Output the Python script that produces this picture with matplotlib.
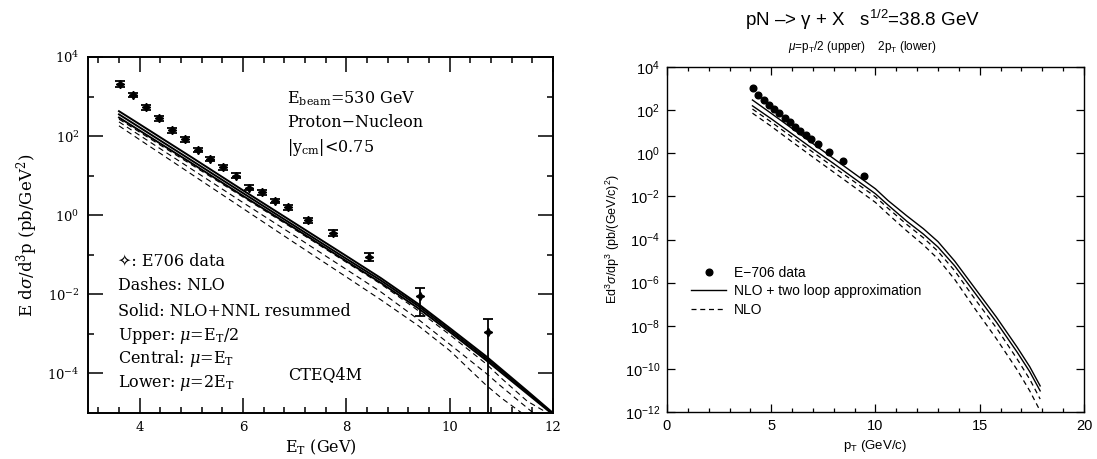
import matplotlib
matplotlib.use("Agg")
import matplotlib.pyplot as plt
import numpy as np
from matplotlib.ticker import MultipleLocator, FixedLocator, FixedFormatter

plt.rcParams['mathtext.fontset'] = 'custom'
plt.rcParams['mathtext.rm'] = 'Liberation Sans'
plt.rcParams['mathtext.it'] = 'Liberation Sans:italic'

# ---------------- left panel data (E706, 530 GeV) ----------------
e706_et = [3.62, 3.87, 4.12, 4.37, 4.62, 4.87, 5.12, 5.37, 5.62, 5.87,
           6.12, 6.37, 6.62, 6.87, 7.25, 7.75, 8.43, 9.43, 10.74]
e706_log = [3.32, 3.04, 2.73, 2.45, 2.15, 1.92, 1.65, 1.42, 1.21, 1.00,
            0.70, 0.58, 0.36, 0.20, -0.13, -0.45, -1.06, -2.05, -2.94]
e706_err_up = [0.07, 0.06, 0.06, 0.06, 0.06, 0.06, 0.06, 0.06, 0.06, 0.06,
               0.06, 0.06, 0.06, 0.06, 0.07, 0.08, 0.10, 0.20, 0.31]
e706_err_dn = [0.07, 0.06, 0.06, 0.06, 0.06, 0.06, 0.06, 0.06, 0.06, 0.06,
               0.06, 0.06, 0.06, 0.06, 0.07, 0.08, 0.10, 0.51, 2.50]

left_x = [3.6, 4.0, 5.0, 6.0, 7.0, 8.0, 8.67, 9.4, 10.0, 10.7, 11.0, 11.5, 12.0]
resum_upper = [2.63, 2.30, 1.47, 0.63, -0.20, -1.03, -1.59, -2.25, -2.85, -3.56, -3.89, -4.44, -5.00]
resum_central = [2.55, 2.22, 1.39, 0.56, -0.27, -1.10, -1.65, -2.30, -2.90, -3.61, -3.93, -4.47, -5.02]
resum_lower = [2.47, 2.14, 1.32, 0.49, -0.33, -1.16, -1.71, -2.36, -2.95, -3.66, -3.98, -4.51, -5.04]
nlo_upper = [2.43, 2.10, 1.28, 0.46, -0.36, -1.19, -1.74, -2.42, -3.02, -3.75, -4.12, -4.70, -5.08]
nlo_central = [2.36, 2.02, 1.17, 0.32, -0.52, -1.37, -1.94, -2.64, -3.26, -3.99, -4.33, -4.87, -5.42]
nlo_lower = [2.26, 1.91, 1.04, 0.17, -0.70, -1.56, -2.14, -2.80, -3.42, -4.29, -4.62, -5.10, -5.60]

# ---------------- right panel data (sqrt(s)=38.8 GeV) ----------------
r_data_pt = [4.12, 4.37, 4.65, 4.89, 5.13, 5.37, 5.66, 5.90, 6.14, 6.38,
             6.67, 6.91, 7.24, 7.77, 8.44, 9.45]
r_data_log = [3.02, 2.70, 2.47, 2.23, 2.05, 1.86, 1.63, 1.44, 1.21, 1.02,
              0.84, 0.68, 0.42, 0.05, -0.37, -1.07]

right_x = [4.1, 5.0, 6.0, 7.0, 8.0, 9.0, 10.0, 10.6, 11.5, 12.3, 13.0, 13.8, 14.8, 15.8, 16.8, 17.4, 17.9]
twoloop_upper = [2.47, 1.85, 1.15, 0.45, -0.25, -0.95, -1.65, -2.19, -2.90, -3.50, -4.10, -5.00, -6.30, -7.60, -9.00, -9.90, -10.79]
twoloop_lower = [2.20, 1.60, 0.90, 0.20, -0.48, -1.18, -1.88, -2.40, -3.15, -3.75, -4.35, -5.22, -6.52, -7.83, -9.23, -10.13, -11.02]
nlo_r_upper = [2.05, 1.45, 0.75, 0.05, -0.65, -1.33, -2.02, -2.55, -3.30, -3.92, -4.55, -5.45, -6.80, -8.10, -9.55, -10.48, -11.40]
nlo_r_lower = [1.86, 1.25, 0.53, -0.18, -0.88, -1.58, -2.28, -2.82, -3.60, -4.25, -4.90, -5.85, -7.25, -8.60, -10.05, -11.02, -11.95]

fig = plt.figure(figsize=(10.97, 4.59), dpi=100)

# ================= left panel =================
serif = ['DejaVu Serif', 'DejaVu Sans']
ax1 = fig.add_axes([0.0802, 0.1002, 0.4239, 0.7756])
ax1.set_yscale('log')
ax1.set_xlim(3, 12)
ax1.set_ylim(1e-5, 1e4)

for ys in (resum_upper, resum_central, resum_lower):
    ax1.plot(left_x, 10 ** np.array(ys), color='black', lw=1.4)
for ys in (nlo_upper, nlo_central, nlo_lower):
    ax1.plot(left_x, 10 ** np.array(ys), color='black', lw=0.8, dashes=(5, 3.5))

yv = 10 ** np.array(e706_log)
lo = yv - 10 ** (np.array(e706_log) - np.array(e706_err_dn))
hi = 10 ** (np.array(e706_log) + np.array(e706_err_up)) - yv
ax1.errorbar(e706_et, yv, yerr=[lo, hi], fmt='none', ecolor='black',
             elinewidth=1.3, capsize=3.5, capthick=1.3)
ax1.plot(e706_et, yv, ls='none', marker=(4, 1, 0), ms=6, color='black')

ax1.xaxis.set_major_locator(MultipleLocator(2))
ax1.xaxis.set_minor_locator(MultipleLocator(0.4))
ax1.yaxis.set_major_locator(FixedLocator([1e-4, 1e-2, 1, 1e2, 1e4]))
ax1.yaxis.set_major_formatter(FixedFormatter([r'10$^{-4}$', r'10$^{-2}$', r'10$^{0}$', r'10$^{2}$', r'10$^{4}$']))
ax1.yaxis.set_minor_locator(FixedLocator([1e-3, 1e-1, 10, 1e3]))
ax1.yaxis.set_minor_formatter(FixedFormatter([]))
ax1.tick_params(which='both', direction='in', top=True, right=True, width=1.1,
                labelsize=9.5)
ax1.tick_params(which='major', length=11, pad=6)
ax1.tick_params(which='minor', length=4.5)
for sp in ax1.spines.values():
    sp.set_linewidth(1.4)

ax1.set_xlabel(r'E$_{\rm T}$ (GeV)', fontsize=11.5, family=serif, labelpad=2)
ax1.set_ylabel(r'E d$\sigma$/d$^3$p (pb/GeV$^2$)', fontsize=12, family=serif, labelpad=5)

tkw = dict(transform=ax1.transAxes, fontsize=11.5, family=serif, va='center', ha='left')
ax1.text(0.428, 0.883, r'E$_{\rm beam}$=530 GeV', **tkw)
ax1.text(0.428, 0.815, 'Proton\u2212Nucleon', **tkw)
ax1.text(0.428, 0.745, r'|y$_{\rm cm}$|<0.75', **tkw)
ax1.text(0.065, 0.427, '\u2727: E706 data', **tkw)
ax1.text(0.065, 0.357, 'Dashes: NLO', **tkw)
ax1.text(0.065, 0.284, 'Solid: NLO+NNL resummed', **tkw)
ax1.text(0.065, 0.216, r'Upper: $\mu$=E$_{\rm T}$/2', **tkw)
ax1.text(0.065, 0.152, r'Central: $\mu$=E$_{\rm T}$', **tkw)
ax1.text(0.065, 0.084, r'Lower: $\mu$=2E$_{\rm T}$', **tkw)
ax1.text(0.43, 0.107, 'CTEQ4M', **tkw)

# ================= right panel =================
sans = ['Liberation Sans', 'DejaVu Sans']
ax2 = fig.add_axes([0.608, 0.1024, 0.3801, 0.7516])
ax2.set_yscale('log')
ax2.set_xlim(0, 20)
ax2.set_ylim(1e-12, 1e4)

ax2.plot(r_data_pt, 10 ** np.array(r_data_log), ls='none', marker='o', ms=4.8,
         color='black', label='E\u2212706 data')
ax2.plot(right_x, 10 ** np.array(twoloop_upper), color='black', lw=1.0,
         label='NLO + two loop approximation')
ax2.plot(right_x, 10 ** np.array(twoloop_lower), color='black', lw=1.0)
ax2.plot(right_x, 10 ** np.array(nlo_r_upper), color='black', lw=0.9,
         dashes=(4, 3), label='NLO')
ax2.plot(right_x, 10 ** np.array(nlo_r_lower), color='black', lw=0.9, dashes=(4, 3))

ax2.xaxis.set_major_locator(MultipleLocator(5))
ax2.xaxis.set_minor_locator(MultipleLocator(1))
ax2.yaxis.set_major_locator(FixedLocator([1e-12, 1e-10, 1e-8, 1e-6, 1e-4, 1e-2, 1, 1e2, 1e4]))
ax2.yaxis.set_major_formatter(FixedFormatter([r'10$^{-12}$', r'10$^{-10}$', r'10$^{-8}$', r'10$^{-6}$',
                                              r'10$^{-4}$', r'10$^{-2}$', r'10$^{0}$', r'10$^{2}$', r'10$^{4}$']))
ax2.yaxis.set_minor_locator(FixedLocator([]))
ax2.tick_params(which='both', direction='in', top=True, right=True, width=0.9,
                labelsize=10.5, labelfontfamily='Liberation Sans')
ax2.tick_params(which='major', length=5.5, pad=5)
ax2.tick_params(which='minor', length=3)
for sp in ax2.spines.values():
    sp.set_linewidth(1.0)

ax2.set_xlabel(r'p$_{\rm T}$ (GeV/c)', fontsize=9.5, family=sans, labelpad=4,
               math_fontfamily='custom')
ax2.set_ylabel(r'Ed$^3$$\sigma$/dp$^3$ (pb/(GeV/c)$^2$)', fontsize=9, family=sans,
               labelpad=2, math_fontfamily='custom')

leg = ax2.legend(loc='upper left', bbox_to_anchor=(0.045, 0.44), frameon=False,
                 handlelength=2.5, handletextpad=0.6, labelspacing=0.32,
                 borderaxespad=0, prop={'family': 'Liberation Sans', 'size': 10})

fig.text(0.786, 0.957, r'pN –> γ + X   s$^{1/2}$=38.8 GeV', ha='center', va='center',
         fontsize=13.5, family=sans, math_fontfamily='custom')
fig.text(0.786, 0.898, r'$\mu$=p$_{\rm T}$/2 (upper)    2p$_{\rm T}$ (lower)', ha='center',
         va='center', fontsize=8.5, family=sans, math_fontfamily='custom')

fig.canvas.draw()
for lab in ax1.get_xticklabels() + ax1.get_yticklabels():
    lab.set_math_fontfamily('dejavuserif')
    lab.set_family(serif)
ax1.xaxis.label.set_math_fontfamily('dejavuserif')
ax1.yaxis.label.set_math_fontfamily('dejavuserif')
for t in ax1.texts:
    t.set_math_fontfamily('dejavuserif')

fig.savefig('out.png', dpi=100)
